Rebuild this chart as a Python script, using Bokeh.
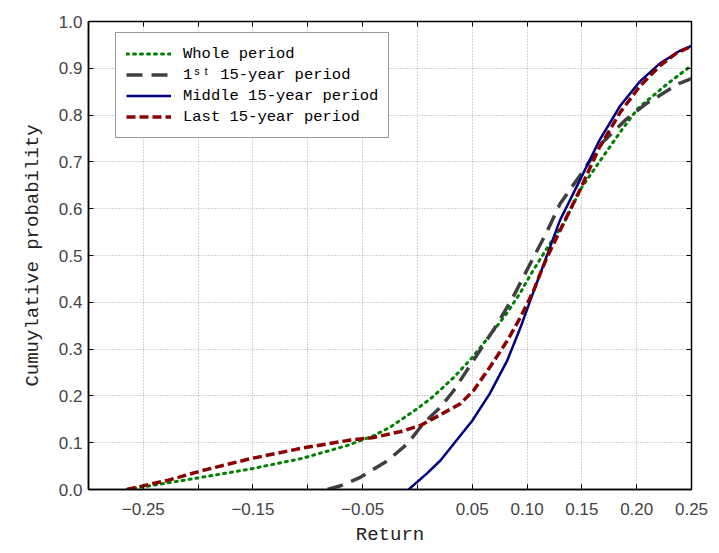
from bokeh.plotting import figure
from bokeh.models import Range1d, FixedTicker, LinearAxis, Legend, LegendItem
from bokeh.embed import file_html
from bokeh.resources import INLINE

# ---- data ----
whole_x = [-0.265, -0.249, -0.197, -0.152, -0.106, -0.064, -0.04, -0.025, -0.013, 0.0, 0.012,
           0.021, 0.033, 0.05, 0.066, 0.082, 0.094, 0.103, 0.118, 0.133, 0.15, 0.168,
           0.186, 0.201, 0.227, 0.25]
whole_y = [0.0, 0.006, 0.026, 0.044, 0.066, 0.094, 0.115, 0.133, 0.152, 0.173, 0.194,
           0.213, 0.239, 0.282, 0.329, 0.378, 0.421, 0.458, 0.515, 0.567, 0.646, 0.707,
           0.767, 0.814, 0.865, 0.906]

first_x = [-0.082, -0.07, -0.052, -0.027, -0.009, 0.005, 0.021, 0.033, 0.045, 0.057, 0.073,
           0.087, 0.103, 0.118, 0.13, 0.148, 0.169, 0.19, 0.209, 0.239, 0.25]
first_y = [0.0, 0.008, 0.026, 0.062, 0.098, 0.14, 0.176, 0.211, 0.254, 0.297, 0.354,
           0.41, 0.483, 0.55, 0.61, 0.67, 0.742, 0.79, 0.825, 0.868, 0.878]

middle_x = [-0.008, 0.009, 0.021, 0.035, 0.05, 0.066, 0.082, 0.094, 0.103, 0.112, 0.13,
            0.148, 0.166, 0.185, 0.203, 0.221, 0.239, 0.25]
middle_y = [0.0, 0.035, 0.062, 0.103, 0.147, 0.205, 0.276, 0.346, 0.404, 0.461, 0.575,
            0.66, 0.746, 0.82, 0.872, 0.91, 0.937, 0.948]

last_x = [-0.265, -0.227, -0.197, -0.152, -0.106, -0.063, -0.04, -0.015, 0.003, 0.021, 0.039,
          0.051, 0.066, 0.082, 0.094, 0.106, 0.112, 0.118, 0.13, 0.148, 0.166, 0.185,
          0.203, 0.221, 0.236, 0.25]
last_y = [0.0, 0.02, 0.04, 0.066, 0.088, 0.105, 0.111, 0.124, 0.137, 0.16, 0.183,
          0.211, 0.261, 0.318, 0.368, 0.425, 0.461, 0.495, 0.553, 0.639, 0.731, 0.806,
          0.862, 0.905, 0.932, 0.947]

x_grid_ticks = [-0.30, -0.25, -0.20, -0.15, -0.10, -0.05, 0.0, 0.05, 0.10, 0.15, 0.20, 0.25]
x_label_ticks = [-0.25, -0.15, -0.05, 0.05, 0.10, 0.15, 0.20, 0.25]
x_tick_labels = ["\u22120.25", "\u22120.15", "\u22120.05", "0.05", "0.10", "0.15", "0.20", "0.25"]
y_ticks = [0.0, 0.1, 0.2, 0.3, 0.4, 0.5, 0.6, 0.7, 0.8, 0.9, 1.0]
y_tick_labels = ["0.0", "0.1", "0.2", "0.3", "0.4", "0.5", "0.6", "0.7", "0.8", "0.9", "1.0"]

series_names = ["Whole period", "1\u02e2\u1d57 15-year period", "Middle 15-year period", "Last 15-year period"]

# ---- figure ----
p = figure(frame_width=603, frame_height=468, output_backend="svg", toolbar_location=None,
           x_range=Range1d(-0.30, 0.25), y_range=Range1d(0.0, 1.0),
           min_border_left=88, min_border_right=28, min_border_top=21, min_border_bottom=64)
p.background_fill_color = "white"
p.border_fill_color = "white"
p.outline_line_color = "black"
p.outline_line_width = 1.5

tick_font = "Liberation Sans"
lab_font = "Liberation Mono"

xt = FixedTicker(ticks=x_label_ticks, minor_ticks=x_grid_ticks)
yt = FixedTicker(ticks=y_ticks)
xg = FixedTicker(ticks=x_grid_ticks)

ax = p.xaxis[0]
ax.ticker = xt
ax.major_label_overrides = dict(zip(x_label_ticks, x_tick_labels))
ax.axis_label = "Return"
ay = p.yaxis[0]
ay.ticker = yt
ay.major_label_overrides = dict(zip(y_ticks, y_tick_labels))
ay.axis_label = "Cumuylative probability"

for a in (ax, ay):
    a.major_tick_in = 5
    a.major_tick_out = 0
    a.minor_tick_in = 5
    a.minor_tick_out = 0
    a.axis_line_color = "black"
    a.axis_line_width = 1.5
    a.major_tick_line_color = "black"
    a.minor_tick_line_color = "black"
    a.major_label_text_font = tick_font
    a.major_label_text_font_size = "17px"
    a.major_label_text_color = "#444444"
    a.axis_label_text_font = lab_font
    a.axis_label_text_font_size = "19px"
    a.axis_label_text_font_style = "normal"
    a.axis_label_text_color = "#222222"
ax.major_label_standoff = 13
ax.axis_label_standoff = 6
ay.major_label_standoff = 6
ay.axis_label_standoff = 12

top = LinearAxis(ticker=FixedTicker(ticks=[], minor_ticks=x_grid_ticks),
                 major_tick_in=0, major_tick_out=0, minor_tick_in=5, minor_tick_out=0,
                 minor_tick_line_color="black", axis_line_color=None, major_label_standoff=0)
right = LinearAxis(ticker=FixedTicker(ticks=[], minor_ticks=y_ticks),
                   major_tick_in=0, major_tick_out=0, minor_tick_in=5, minor_tick_out=0,
                   minor_tick_line_color="black", axis_line_color=None, major_label_standoff=0)
p.add_layout(top, "above")
p.add_layout(right, "right")

p.xgrid.ticker = xg
p.ygrid.ticker = yt
for g in (p.xgrid[0], p.ygrid[0]):
    g.grid_line_color = "#a8a8a8"
    g.grid_line_dash = "1 2"
    g.grid_line_width = 1

r_whole = p.line(whole_x, whole_y, line_color="#008000", line_width=3, line_dash="2 5", line_cap="round")
r_first = p.line(first_x, first_y, line_color="#404040", line_width=3.5, line_dash="16 9")
r_middle = p.line(middle_x, middle_y, line_color="#000080", line_width=2.5)
r_last = p.line(last_x, last_y, line_color="#8b0000", line_width=3.5, line_dash="9 4")

legend = Legend(items=[LegendItem(label=series_names[0], renderers=[r_whole]),
                       LegendItem(label=series_names[1], renderers=[r_first]),
                       LegendItem(label=series_names[2], renderers=[r_middle]),
                       LegendItem(label=series_names[3], renderers=[r_last])],
                location=(27, 351))
legend.label_text_font = lab_font
legend.label_text_font_size = "15.5px"
legend.label_text_color = "black"
legend.glyph_width = 45
legend.glyph_height = 21
legend.label_height = 21
legend.label_standoff = 12
legend.padding = 10
legend.spacing = 0
legend.margin = 0
legend.border_line_color = "#333333"
legend.border_line_width = 1
legend.background_fill_color = "white"
legend.background_fill_alpha = 1.0
p.add_layout(legend)

open("out.html", "w").write(file_html(p, INLINE))
